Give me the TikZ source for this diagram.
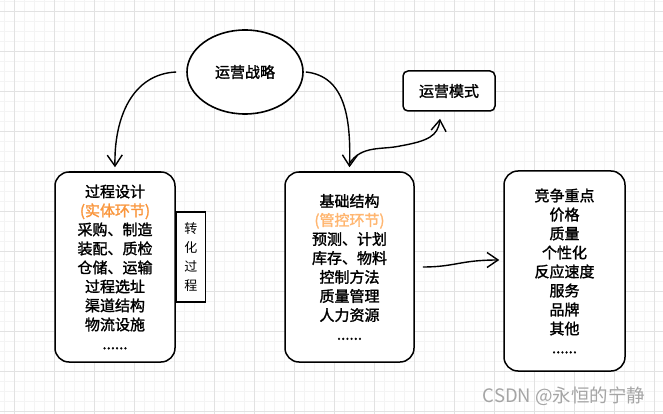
\documentclass[tikz,border=0pt]{standalone}
\usepackage{fontspec}
\setmainfont{Noto Sans CJK SC}
\newfontfamily\heavycjk[FakeBold=1.6]{Noto Sans CJK SC}
\usepackage{xcolor}
\usepackage{tikz}
\usetikzlibrary{shapes.geometric,arrows.meta,positioning}
\definecolor{gridmajor}{RGB}{226,226,226}
\definecolor{gridminor}{RGB}{244,244,244}
\definecolor{hiorange}{RGB}{250,150,60}
\definecolor{softorange}{RGB}{255,182,112}
\definecolor{wmgray}{RGB}{165,165,165}
\tikzset{
  card/.style={rectangle,rounded corners=14pt,draw=black,line width=1.5pt,fill=white,
              minimum width=120pt,minimum height=190pt,align=center,
              font=\heavycjk\fontsize{15}{19}\selectfont},
  sidetab/.style={rectangle,draw=black,line width=1.3pt,fill=white,minimum width=29pt,
              minimum height=90pt,align=center,font=\fontsize{13}{19}\selectfont},
  ovalnode/.style={ellipse,draw=black,line width=1.6pt,fill=white,minimum width=116pt,
              minimum height=84pt,font=\heavycjk\fontsize{15}{19}\selectfont},
  tagbox/.style={rectangle,rounded corners=5pt,draw=black,line width=1.5pt,fill=white,
              minimum width=92pt,minimum height=40pt,font=\heavycjk\fontsize{15}{19}\selectfont},
  flow/.style={-{Straight Barb[length=11pt,width=15pt]},line width=1.4pt,draw=black},
}

\begin{document}
\begin{tikzpicture}[x=1pt,y=-1pt]
  \useasboundingbox (0,0) rectangle (663,414);
  \fill[white] (0,0) rectangle (663,414);
  % paper grid
  \foreach \x in {4,14,...,663} \draw[gridminor,line width=0.6pt] (\x,0) -- (\x,414);
  \foreach \y in {1,11,...,414} \draw[gridminor,line width=0.6pt] (0,\y) -- (663,\y);
  \foreach \x in {14,54,...,663} \draw[gridmajor,line width=0.8pt] (\x,0) -- (\x,414);
  \foreach \y in {11,51,...,414} \draw[gridmajor,line width=0.8pt] (0,\y) -- (663,\y);

  \node[ovalnode] at (245,72) (strat) {运营战略};
  \node[tagbox] at (449,91) (mode) {运营模式};
  \node[card] at (115,267) (proc) {过程设计\\\textcolor{hiorange}{(实体环节)}\\采购、制造\\装配、质检\\仓储、运输\\过程选址\\渠道结构\\物流设施\\......};
  \node[sidetab,right=0pt of proc.east,yshift=10pt,anchor=west] (turn) {转\\化\\过\\程};
  \node[card,minimum width=129pt] at (349.5,267) (ctrl) {基础结构\\\textcolor{softorange}{(管控环节)}\\预测、计划\\库存、物料\\控制方法\\质量管理\\人力资源\\......};
  \node[card,minimum width=121pt,minimum height=200pt] at (564.5,271) (focus) {竞争重点\\价格\\质量\\个性化\\反应速度\\服务\\品牌\\其他\\......};
  \node[anchor=east,text=wmgray,font=\fontsize{18.5}{20}\selectfont] at (649,396) (mark) {CSDN @永恒的宁静};

  \draw[flow] ([xshift=-10pt]strat.west) .. controls (132,74) and (114,118) .. ([yshift=4pt]proc.north);
  \draw[flow] ([xshift=2pt]strat.east) .. controls (345,76) and (351,118) .. ([yshift=4pt]ctrl.north);
  \draw[flow] ([yshift=8pt]ctrl.north) .. controls (362,145) and (382,150) .. (400,146)
              .. controls (428,141) and (438,136) .. ([xshift=-9pt,yshift=-7pt]mode.south);
  \draw[flow] ([xshift=8pt]ctrl.east) .. controls (455,267) and (460,260) .. ([xshift=-4pt,yshift=11pt]focus.west);
\end{tikzpicture}
\end{document}
